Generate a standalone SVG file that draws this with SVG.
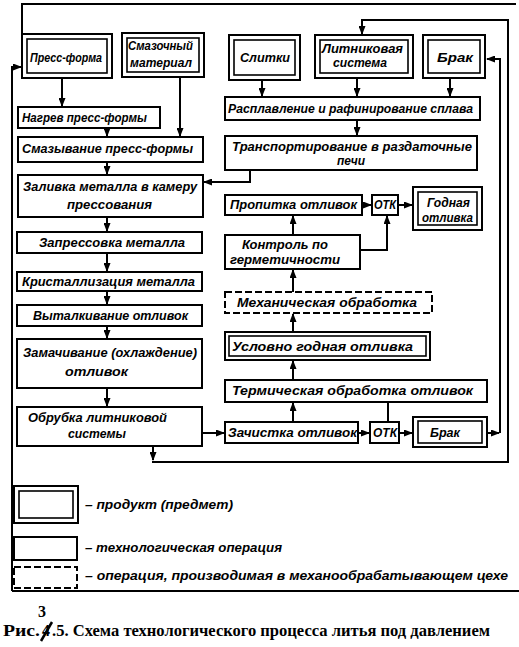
<svg xmlns="http://www.w3.org/2000/svg" width="519" height="647" viewBox="0 0 519 647">
<style>
rect{fill:#fff;stroke:#000;stroke-width:2}
.in{stroke-width:1.6}
.dash{stroke-dasharray:7,3}
.t{font-family:"Liberation Sans",Arial,sans-serif;font-style:italic;font-weight:bold;font-size:12px;fill:#000}
.c path{fill:none;stroke:#000;stroke-width:2}
.cap{font-family:"Liberation Serif","Times New Roman",serif;font-weight:bold;font-size:16px;fill:#000}
</style>
<defs>
<marker id="a" markerUnits="userSpaceOnUse" markerWidth="9" markerHeight="7" refX="8" refY="3.5" orient="auto">
<path d="M0,0 L9,3.5 L0,7 z" fill="#000"/>
</marker>
</defs>
<rect x="0" y="0" width="519" height="647" style="stroke:none"/>

<g class="c" id="connectors">
<path d="M22,34 V4 H516"/>
<path d="M12,591 V67 H21" marker-end="url(#a)"/>
<path d="M12,591 H519"/>
<path d="M62,78 V106" marker-end="url(#a)"/>
<path d="M107,128 V136" marker-end="url(#a)"/>
<path d="M180,77 V136" marker-end="url(#a)"/>
<path d="M107,162 V174" marker-end="url(#a)"/>
<path d="M107,217 V231" marker-end="url(#a)"/>
<path d="M107,253 V271" marker-end="url(#a)"/>
<path d="M107,291 V304" marker-end="url(#a)"/>
<path d="M107,326 V338" marker-end="url(#a)"/>
<path d="M107,388 V406" marker-end="url(#a)"/>
<path d="M202,433 H224" marker-end="url(#a)"/>
<path d="M153,446 V460" marker-end="url(#a)"/>
<path d="M152,462 H508 V20 H362 V34" marker-end="url(#a)"/>
<path d="M262,80 V96" marker-end="url(#a)"/>
<path d="M357,78 V96" marker-end="url(#a)"/>
<path d="M450,78 V96" marker-end="url(#a)"/>
<path d="M357,120 V135" marker-end="url(#a)"/>
<path d="M250,170 V182 H204" marker-end="url(#a)"/>
<path d="M362,205 H371" marker-end="url(#a)"/>
<path d="M398,205 H412" marker-end="url(#a)"/>
<path d="M293,235 V216" marker-end="url(#a)"/>
<path d="M360,250 H387 V216" marker-end="url(#a)"/>
<path d="M293,292 V270" marker-end="url(#a)"/>
<path d="M293,332 V314" marker-end="url(#a)"/>
<path d="M293,380 V361" marker-end="url(#a)"/>
<path d="M293,422 V403" marker-end="url(#a)"/>
<path d="M358,433 H369" marker-end="url(#a)"/>
<path d="M388,422 V402"/>
<path d="M399,433 H412" marker-end="url(#a)"/>
<path d="M487,433 H499" marker-end="url(#a)"/>
<path d="M500,433 V59 H487" marker-end="url(#a)"/>
</g>

<g id="n_pressforma"><rect x="22" y="34" width="90" height="44"/><rect class="in" x="27" y="39" width="80" height="34"/><text class="t" x="30" y="62" textLength="72" lengthAdjust="spacingAndGlyphs">Пресс-форма</text></g>
<g id="n_smaz_mat"><rect x="122" y="33" width="82" height="44"/><rect class="in" x="127" y="38" width="72" height="34"/><text class="t" x="128" y="50" textLength="65" lengthAdjust="spacingAndGlyphs">Смазочный</text><text class="t" x="130" y="67" textLength="62" lengthAdjust="spacingAndGlyphs">материал</text></g>
<g id="n_slitki"><rect x="229" y="35" width="71" height="45"/><rect class="in" x="234" y="40" width="61" height="35"/><text class="t" x="240" y="62" textLength="50" lengthAdjust="spacingAndGlyphs">Слитки</text></g>
<g id="n_litnik"><rect x="315" y="35" width="98" height="43"/><rect class="in" x="320" y="40" width="88" height="33"/><text class="t" x="322" y="53" textLength="81" lengthAdjust="spacingAndGlyphs">Литниковая</text><text class="t" x="333" y="67" textLength="54" lengthAdjust="spacingAndGlyphs">система</text></g>
<g id="n_brak1"><rect x="423" y="35" width="62" height="43"/><rect class="in" x="428" y="40" width="52" height="33"/><text class="t" x="437" y="62" textLength="36" lengthAdjust="spacingAndGlyphs">Брак</text></g>

<g id="n_nagrev"><rect x="18" y="107" width="142" height="21"/><text class="t" x="22" y="122" textLength="125" lengthAdjust="spacingAndGlyphs">Нагрев пресс-формы</text></g>
<g id="n_smazyv"><rect x="18" y="137" width="185" height="25"/><text class="t" x="22" y="153" textLength="171" lengthAdjust="spacingAndGlyphs">Смазывание пресс-формы</text></g>
<g id="n_zaliv"><rect x="18" y="175" width="185" height="42"/><text class="t" x="23" y="191" textLength="174" lengthAdjust="spacingAndGlyphs">Заливка металла в камеру</text><text class="t" x="67" y="209" textLength="85" lengthAdjust="spacingAndGlyphs">прессования</text></g>
<g id="n_zapress"><rect x="17" y="232" width="185" height="21"/><text class="t" x="39" y="247" textLength="146" lengthAdjust="spacingAndGlyphs">Запрессовка металла</text></g>
<g id="n_krist"><rect x="17" y="272" width="185" height="19"/><text class="t" x="22" y="286" textLength="173" lengthAdjust="spacingAndGlyphs">Кристаллизация металла</text></g>
<g id="n_vytal"><rect x="17" y="305" width="185" height="21"/><text class="t" x="33" y="320" textLength="155" lengthAdjust="spacingAndGlyphs">Выталкивание отливок</text></g>
<g id="n_zamach"><rect x="17" y="339" width="185" height="49"/><text class="t" x="23" y="357" textLength="174" lengthAdjust="spacingAndGlyphs">Замачивание (охлаждение)</text><text class="t" x="65" y="376" textLength="63" lengthAdjust="spacingAndGlyphs">отливок</text></g>
<g id="n_obrub"><rect x="17" y="407" width="185" height="39"/><text class="t" x="28" y="422" textLength="139" lengthAdjust="spacingAndGlyphs">Обрубка литниковой</text><text class="t" x="68" y="438" textLength="58" lengthAdjust="spacingAndGlyphs">системы</text></g>

<g id="n_raspl"><rect x="225" y="97" width="255" height="23"/><text class="t" x="228" y="113" textLength="245" lengthAdjust="spacingAndGlyphs">Расплавление и рафинирование сплава</text></g>
<g id="n_transp"><rect x="225" y="136" width="252" height="34"/><text class="t" x="232" y="151" textLength="240" lengthAdjust="spacingAndGlyphs">Транспортирование  в  раздаточные</text><text class="t" x="337" y="165" textLength="28" lengthAdjust="spacingAndGlyphs">печи</text></g>
<g id="n_propit"><rect x="225" y="195" width="137" height="20"/><text class="t" x="230" y="209" textLength="127" lengthAdjust="spacingAndGlyphs">Пропитка отливок</text></g>
<g id="n_otk1"><rect x="372" y="195" width="26" height="20"/><text class="t" x="374" y="209" textLength="22" lengthAdjust="spacingAndGlyphs">ОТК</text></g>
<g id="n_godn"><rect x="413" y="187" width="69" height="43"/><rect class="in" x="418" y="192" width="59" height="33"/><text class="t" x="427" y="207" textLength="43" lengthAdjust="spacingAndGlyphs">Годная</text><text class="t" x="422" y="222" textLength="51" lengthAdjust="spacingAndGlyphs">отливка</text></g>
<g id="n_kontrol"><rect x="225" y="235" width="135" height="34"/><text class="t" x="242" y="249" textLength="86" lengthAdjust="spacingAndGlyphs">Контроль по</text><text class="t" x="230" y="264" textLength="110" lengthAdjust="spacingAndGlyphs">герметичности</text></g>
<g id="n_mech"><rect class="dash" x="225" y="292" width="207" height="21"/><text class="t" x="237" y="307" textLength="180" lengthAdjust="spacingAndGlyphs">Механическая обработка</text></g>
<g id="n_uslov"><rect x="225" y="332" width="205" height="28"/><rect class="in" x="229" y="336" width="197" height="20"/><text class="t" x="232" y="351" textLength="181" lengthAdjust="spacingAndGlyphs">Условно годная отливка</text></g>
<g id="n_term"><rect x="225" y="380" width="262" height="22"/><text class="t" x="232" y="395" textLength="241" lengthAdjust="spacingAndGlyphs">Термическая обработка отливок</text></g>
<g id="n_zachist"><rect x="225" y="422" width="133" height="21"/><text class="t" x="228" y="437" textLength="129" lengthAdjust="spacingAndGlyphs">Зачистка отливок</text></g>
<g id="n_otk2"><rect x="370" y="422" width="29" height="21"/><text class="t" x="373" y="437" textLength="24" lengthAdjust="spacingAndGlyphs">ОТК</text></g>
<g id="n_brak2"><rect x="413" y="417" width="74" height="30"/><rect class="in" x="418" y="421" width="64" height="22"/><text class="t" x="430" y="437" textLength="30" lengthAdjust="spacingAndGlyphs">Брак</text></g>

<g id="legend">
<rect x="14" y="486" width="64" height="37"/><rect class="in" x="19" y="491" width="54" height="27"/>
<text class="t" x="85" y="509" textLength="148" lengthAdjust="spacingAndGlyphs">– продукт (предмет)</text>
<rect x="14" y="537" width="63" height="23"/>
<text class="t" x="85" y="552" textLength="197" lengthAdjust="spacingAndGlyphs">– технологическая операция</text>
<rect class="dash" x="14" y="567" width="63" height="21"/>
<text class="t" x="85" y="580" textLength="423" lengthAdjust="spacingAndGlyphs">– операция, производимая в механообрабатывающем цехе</text>
</g>

<g id="caption">
<text class="cap" x="38" y="617">3</text>
<text class="cap" x="3" y="636" textLength="37" lengthAdjust="spacingAndGlyphs">Рис.</text>
<text class="cap" x="42" y="636">4</text>
<text class="cap" x="52" y="636" textLength="438" lengthAdjust="spacingAndGlyphs">.5. Схема технологического процесса литья под давлением</text>
<path d="M41,641 L52,622" stroke="#000" stroke-width="2.5" fill="none"/>
</g>
</svg>
